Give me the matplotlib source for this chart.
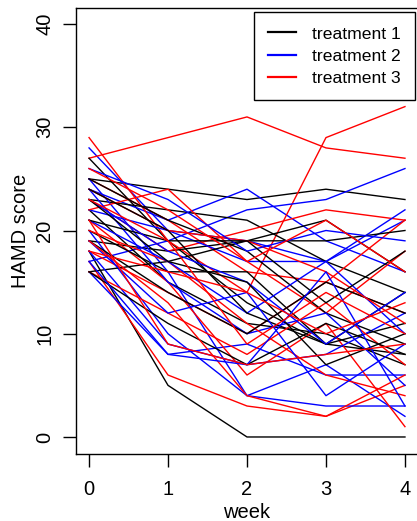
import numpy as np
import matplotlib
matplotlib.use("Agg")
from matplotlib import pyplot as plt

plt.rcParams["font.family"] = ["Liberation Sans", "DejaVu Sans"]

weeks = [0, 1, 2, 3, 4]

# HAMD scores per subject (approximate)
treatment1 = [
    [25, 24, 23, 24, 23],
    [27, 19, 13, 9, 8],
    [18, 5, 0, 0, 0],
    [23, 22, 21, 17, 14],
    [19, 18, 19, 21, 16],
    [22, 15, 11, 10, 7],
    [20, 16, 16, 9, 11],
    [16, 17, 19, 19, 20],
    [25, 21, 18, 12, 9],
    [19, 14, 10, 15, 12],
    [24, 20, 12, 9, 14],
    [16, 11, 7, 11, 8],
    [21, 19, 19, 13, 18],
    [23, 17, 15, 7, 10],
]
treatment2 = [
    [28, 20, 19, 17, 21],
    [24, 21, 24, 19, 16],
    [17, 19, 22, 23, 26],
    [16, 8, 9, 6, 6],
    [25, 16, 4, 3, 3],
    [20, 10, 4, 7, 2],
    [22, 20, 17, 17, 22],
    [18, 9, 7, 8, 12],
    [24, 15, 10, 12, 5],
    [21, 17, 12, 17, 10],
    [26, 23, 18, 20, 19],
    [19, 12, 14, 4, 9],
    [23, 18, 15, 9, 14],
    [17, 8, 7, 16, 3],
]
treatment3 = [
    [27, 29, 31, 28, 27],
    [29, 19, 14, 29, 32],
    [17, 6, 3, 2, 5],
    [25, 21, 16, 15, 21],
    [23, 18, 20, 22, 21],
    [21, 15, 6, 11, 1],
    [18, 14, 10, 15, 12],
    [22, 24, 17, 12, 18],
    [20, 17, 11, 6, 4],
    [24, 20, 19, 16, 11],
    [16, 12, 8, 13, 7],
    [19, 13, 4, 2, 6],
    [26, 22, 17, 21, 16],
    [18, 16, 14, 10, 13],
    [23, 19, 9, 14, 10],
    [21, 9, 7, 8, 9],
]

groups = [treatment1, treatment2, treatment3]
colors = ["black", "blue", "red"]
labels = ["treatment 1", "treatment 2", "treatment 3"]

fs = 14.5

fig = plt.figure(figsize=(4.17, 5.21), dpi=100)
ax = fig.add_axes([76.4 / 417, (521 - 453.5) / 521, 341.2 / 417, 446 / 521])

# plot subjects interleaved so colours overlap like the original
n_max = max(len(g) for g in groups)
for i in range(n_max):
    for g, c in zip(groups, colors):
        if i < len(g):
            ax.plot(weeks, g[i], color=c, lw=1.0)

ax.set_xlim(-0.16, 4.16)
ax.set_ylim(-1.6, 41.6)
ax.set_xticks(weeks)
ax.set_yticks([0, 10, 20, 30, 40])
ax.tick_params(direction="out", length=9.5, width=1.0, labelsize=fs)
ax.tick_params(axis="x", pad=9.5)
ax.tick_params(axis="y", pad=6.5)
for lab in ax.get_yticklabels():
    lab.set_rotation(90)
    lab.set_va("center")
for s in ax.spines.values():
    s.set_linewidth(1.0)
ax.set_xlabel("week", fontsize=fs, labelpad=3)
ax.set_ylabel("HAMD score", fontsize=fs, labelpad=4)

handles = [plt.Line2D([], [], color=c, lw=1.6) for c in colors]
leg = ax.legend(handles, labels, loc="upper right", bbox_to_anchor=(0.993, 0.99),
                borderaxespad=0, fancybox=False, framealpha=1, edgecolor="black",
                fontsize=12.6, handlelength=1.6, handletextpad=0.9,
                labelspacing=0.4, borderpad=0.82)
leg.get_frame().set_linewidth(1.0)

fig.savefig("out.png", dpi=100)
